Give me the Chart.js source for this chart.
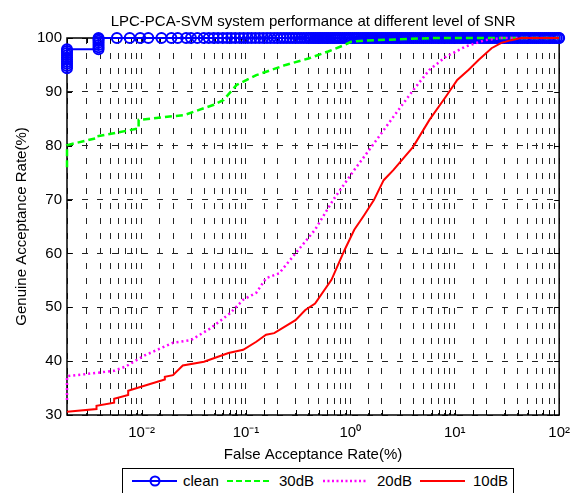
<!DOCTYPE html>
<html>
<head>
<meta charset="utf-8">
<script src="https://cdn.jsdelivr.net/npm/chart.js@4.4.0/dist/chart.umd.min.js"></script>
<style>
  html, body { margin: 0; padding: 0; background: #fff; }
  #wrap { position: relative; width: 579px; height: 493px; overflow: hidden; }
  #legend {
    position: absolute; left: 122px; top: 468px; width: 390px; height: 30px;
    border: 1px solid #000; background: #fff;
    font: 15px "Liberation Sans", Arial, sans-serif; color: #000;
  }
  #legend svg { position: absolute; left: 0; top: 0; }
  #legend span { position: absolute; top: 3px; line-height: 18px; white-space: nowrap; }
</style>
</head>
<body>
<div id="wrap">
  <canvas id="snrChart" width="579" height="493"></canvas>
  <div id="legend">
    <svg width="390" height="30">
      <line x1="9" y1="12" x2="54" y2="12" stroke="#0000ff" stroke-width="2"/>
      <circle cx="32" cy="12" r="4.5" fill="none" stroke="#0000ff" stroke-width="2"/>
      <line x1="104" y1="12" x2="147" y2="12" stroke="#00ff00" stroke-width="2" stroke-dasharray="6 3"/>
      <line x1="200" y1="12" x2="244" y2="12" stroke="#ff00ff" stroke-width="2.5" stroke-dasharray="2 2.5"/>
      <line x1="297" y1="12" x2="342" y2="12" stroke="#ff0000" stroke-width="2"/>
    </svg>
    <span style="left:60px">clean</span>
    <span style="left:156px">30dB</span>
    <span style="left:254px">20dB</span>
    <span style="left:350px">10dB</span>
  </div>
</div>
<script>
// --- data (FAR in %, GAR in %) ---
const seriesNames = ['clean', '30dB', '20dB', '10dB'];

// clean: two vertical clusters at the first FAR steps, then a plateau at 100
const cleanX = [0.00193, 0.00193, 0.00193, 0.00193, 0.00193, 0.00193, 0.00193, 0.00193, 0.00193, 0.00193,
                0.00387, 0.00387, 0.00387, 0.00387, 0.00387, 0.00387, 0.00387];
const cleanY = [94.4, 94.8, 95.2, 95.6, 96.0, 96.4, 96.8, 97.2, 97.6, 97.9,
                97.9, 98.3, 98.7, 99.1, 99.5, 99.8, 100];
const cleanPlateauY = 100;
const cleanPlateauX = [0.0058, 0.0077, 0.0097, 0.0116, 0.0155, 0.0193, 0.0222, 0.0267, 0.0297, 0.0342,
  0.0394, 0.044, 0.049, 0.054, 0.060, 0.066, 0.072, 0.079, 0.087, 0.095, 0.104, 0.113, 0.123, 0.134,
  0.146, 0.159, 0.172, 0.186, 0.2, 0.215, 0.23, 0.246, 0.263, 0.28, 0.298, 0.317, 0.337, 0.358, 0.38,
  0.4, 0.42, 0.44, 0.46, 0.48, 0.5, 0.52, 0.545, 0.57, 0.595, 0.62, 0.65, 0.68, 0.71, 0.74, 0.77, 0.8,
  0.84, 0.88, 0.92, 0.96, 1.0, 1.05, 1.1, 1.15, 1.2, 1.26, 1.32, 1.38, 1.44, 1.5, 1.57, 1.64, 1.72,
  1.8, 1.88, 1.97, 2.06, 2.15, 2.25, 2.35, 2.46, 2.57, 2.69, 2.81, 2.94, 3.07, 3.21, 3.36, 3.51, 3.67,
  3.84, 4.01, 4.2, 4.39, 4.59, 4.8, 5.02, 5.25, 5.49, 5.74, 6.0, 6.27, 6.56, 6.86, 7.17, 7.5, 7.84,
  8.2, 8.57, 8.96, 9.37, 9.8, 10.2, 10.7, 11.2, 11.7, 12.2, 12.8, 13.4, 14.0, 14.6, 15.3, 16.0, 16.7,
  17.5, 18.3, 19.1, 20.0, 20.9, 21.8, 22.8, 23.9, 25.0, 26.1, 27.3, 28.5, 29.8, 31.2, 32.6, 34.1,
  35.6, 37.2, 38.9, 40.7, 42.6, 44.5, 46.5, 48.6, 50.8, 53.1, 55.5, 58.0, 60.7, 63.4, 66.3, 69.3,
  72.5, 75.8, 79.2, 82.8, 86.6, 90.5, 94.6, 98.9, 100];

const db30X = [0.00193, 0.00193, 0.00367, 0.00367, 0.00937, 0.00937, 0.0257, 0.0492, 0.0611, 0.0814,
               0.1255, 0.24, 0.397, 0.612, 0.878, 1.015, 1.354, 2.78, 6.15, 100];
const db30Y = [76.0, 80.1, 81.4, 81.7, 83.2, 84.8, 85.7, 87.6, 88.5, 91.3,
               93.1, 95.0, 96.2, 97.5, 98.7, 99.3, 99.5, 99.75, 100, 100];

const db20X = [0.00193, 0.00193, 0.00546, 0.00703, 0.0108, 0.0200, 0.0297, 0.0457, 0.0705, 0.0941,
               0.1255, 0.1558, 0.2077, 0.298, 0.459, 0.682, 1.09, 1.68, 2.59, 3.99, 5.72, 8.2,
               12.6, 19.5, 27.9, 100];
const db20Y = [32.8, 37.2, 38.2, 39.0, 41.1, 43.4, 43.9, 46.1, 48.9, 51.4,
               52.7, 55.4, 56.3, 60.0, 64.4, 69.9, 75.5, 80.4, 85.4, 90.3, 94.1, 96.5,
               98.4, 99.6, 100, 100];

const db10X = [0.00193, 0.0037, 0.0037, 0.00546, 0.00546, 0.00744, 0.00744, 0.00937, 0.0167, 0.0167,
               0.0200, 0.0248, 0.0396, 0.068, 0.0941, 0.1255, 0.1558, 0.1864, 0.298, 0.37, 0.459,
               0.659, 0.878, 1.09, 1.354, 1.68, 2.085, 2.59, 3.99, 5.72, 8.2, 10.56, 13.6, 16.9,
               22.5, 27.9, 34.7, 43, 100];
const db10Y = [30.6, 31.1, 31.7, 32.3, 33.0, 33.7, 34.5, 35.1, 36.6, 37.1,
               37.4, 39.2, 39.9, 41.5, 42.1, 43.6, 44.9, 45.2, 47.6, 49.5, 50.7,
               55.1, 60.6, 64.4, 67.1, 69.9, 73.6, 75.5, 79.8, 84.8, 89.1, 92.2, 94.1, 95.9,
               98.1, 99.1, 99.6, 100, 100];

const xMin = 0.00193, xMax = 100;
const yMin = 30, yMax = 100, yStep = 10;

const FONT = '"Liberation Sans", Arial, sans-serif';

function toPoints(xs, ys) {
    return xs.map((x, i) => ({ x: x, y: ys[i] }));
}

const cleanPoints = toPoints(cleanX, cleanY).concat(cleanPlateauX.map(x => ({ x: x, y: cleanPlateauY })));

const supDigits = { '-': '\u207B', '0': '\u2070', '1': '\u00B9', '2': '\u00B2', '3': '\u00B3' };
function powerLabel(value) {
    const e = Math.log10(value);
    if (Math.abs(e - Math.round(e)) > 1e-6) return '';
    return '10' + String(Math.round(e)).split('').map(c => supDigits[c] || c).join('');
}

// black axes box plus short inward tick marks, like the MATLAB axes
const framePlugin = {
    id: 'frame',
    beforeDatasetsDraw(chart) {
        const a = chart.chartArea;
        const ctx = chart.ctx;
        const tickLen = 5;
        ctx.save();
        ctx.strokeStyle = '#000';
        ctx.setLineDash([]);
        ctx.lineWidth = 1;
        ctx.beginPath();
        chart.scales.x.ticks.forEach(t => {
            const px = Math.round(chart.scales.x.getPixelForValue(t.value)) + 0.5;
            ctx.moveTo(px, a.bottom); ctx.lineTo(px, a.bottom - tickLen);
            ctx.moveTo(px, a.top); ctx.lineTo(px, a.top + tickLen);
        });
        chart.scales.y.ticks.forEach(t => {
            const py = Math.round(chart.scales.y.getPixelForValue(t.value)) + 0.5;
            ctx.moveTo(a.left, py); ctx.lineTo(a.left + tickLen, py);
            ctx.moveTo(a.right, py); ctx.lineTo(a.right - tickLen, py);
        });
        ctx.stroke();
        ctx.lineWidth = 1.5;
        ctx.strokeRect(a.left, a.top, a.right - a.left, a.bottom - a.top);
        ctx.restore();
    }
};

Chart.defaults.font.family = FONT;
Chart.defaults.color = '#000';

const snrChart = new Chart(document.getElementById('snrChart'), {
    type: 'line',
    data: {
        datasets: [
            {
                label: seriesNames[0], data: cleanPoints, order: 4, clip: false,
                borderColor: '#0000ff', borderWidth: 2,
                pointRadius: 5, pointBorderWidth: 2, pointBorderColor: '#0000ff',
                pointBackgroundColor: 'rgba(0,0,0,0)'
            },
            {
                label: seriesNames[1], data: toPoints(db30X, db30Y), order: 3, clip: false,
                borderColor: '#00ff00', borderWidth: 2.5, borderDash: [7, 4], pointRadius: 0
            },
            {
                label: seriesNames[2], data: toPoints(db20X, db20Y), order: 2, clip: false,
                borderColor: '#ff00ff', borderWidth: 2.5, borderDash: [2, 3], pointRadius: 0
            },
            {
                label: seriesNames[3], data: toPoints(db10X, db10Y), order: 1, clip: false,
                borderColor: '#ff0000', borderWidth: 2, pointRadius: 0
            }
        ]
    },
    options: {
        responsive: false,
        animation: false,
        events: [],
        layout: { padding: { left: 0, right: 11, top: 0, bottom: 28 } },
        plugins: {
            legend: { display: false },
            tooltip: { enabled: false },
            title: {
                display: true,
                fullSize: false,
                text: 'LPC-PCA-SVM system performance at different level of SNR',
                color: '#000',
                font: { size: 15, weight: 'normal', family: FONT },
                padding: { top: 13, bottom: 7 }
            }
        },
        scales: {
            x: {
                type: 'logarithmic',
                min: xMin, max: xMax,
                afterFit(scale) { scale.height = 50; },
                border: { display: false, dash: [6, 9], color: '#000' },
                grid: { color: '#222', lineWidth: 1, drawTicks: false },
                ticks: {
                    autoSkip: false, maxRotation: 0, padding: 9,
                    font: { size: 15 }, color: '#000',
                    callback: (value) => powerLabel(value)
                },
                title: {
                    display: true, text: 'False Acceptance Rate(%)',
                    font: { size: 15 }, color: '#000',
                    padding: { top: 0, bottom: 1 }
                }
            },
            y: {
                min: yMin, max: yMax,
                afterFit(scale) { scale.width = 67; },
                border: { display: false, dash: [6, 9], color: '#000' },
                grid: { color: '#222', lineWidth: 1, drawTicks: false },
                ticks: { stepSize: yStep, padding: 5, font: { size: 15 }, color: '#000' },
                title: {
                    display: true, text: 'Genuine Acceptance Rate(%)',
                    font: { size: 15 }, color: '#000',
                    padding: { top: 13, bottom: 0 }
                }
            }
        }
    },
    plugins: [framePlugin]
});
</script>
</body>
</html>
